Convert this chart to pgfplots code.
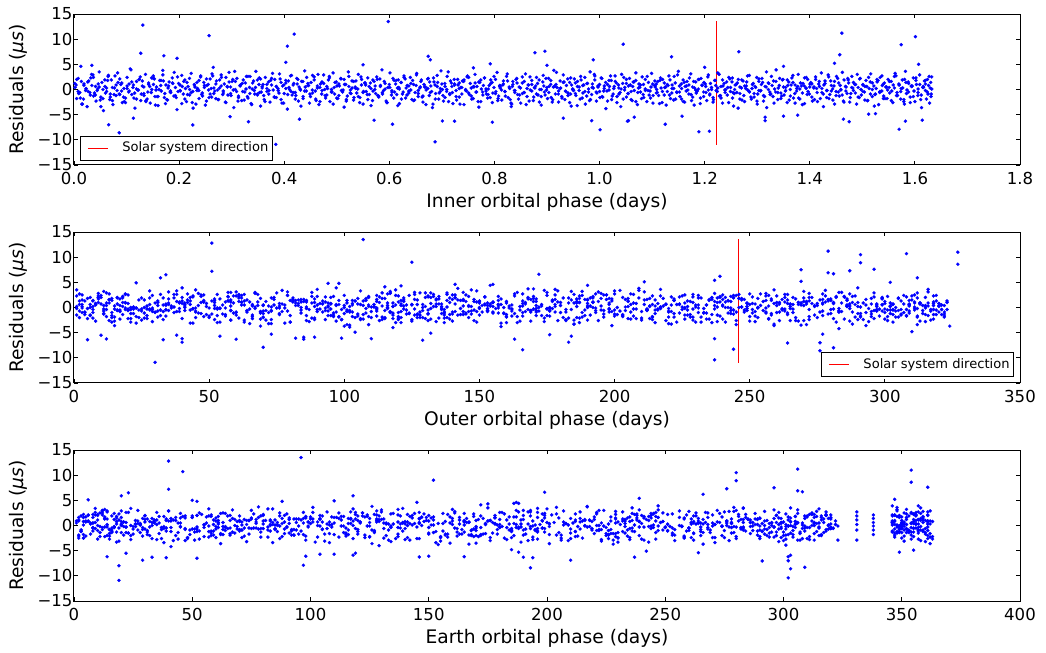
\documentclass[border=0pt]{standalone}
\usepackage{fontspec}
\setmainfont{DejaVu Sans}
\usepackage{pgfplots}
\usepackage{pgfplotstable}
\pgfplotsset{compat=1.18}
\pgfplotstableread{
a b c r
0.002 17 144 0.4
0.005 203 62 -1.8
0.008 88 251 2.2
0.011 296 9 -0.6
0.013 141 187 4.6
0.016 54 306 -2.9
0.019 239 113 1.1
0.022 312 38 -0.2
0.025 109 271 -3.4
0.028 171 350 1.7
0.031 26 96 -1.1
0.034 264 219 0.8
0.036 132 14 2.9
0.039 79 292 -0.7
0.042 318 158 -2.3
0.045 190 71 0.1
0.048 45 236 3.5
0.051 227 357 -1.5
0.053 101 125 1.4
0.056 283 41 -4.2
0.059 158 264 0.6
0.062 7 180 -0.4
0.065 246 22 2.6
0.068 70 315 -2.0
0.071 305 87 1.9
0.074 121 209 -3.0
0.077 36 140 0.3
0.080 215 349 -1.2
0.083 179 57 3.3
0.086 92 283 -0.9
0.089 260 198 1.0
0.092 13 33 -2.6
0.095 147 305 0.2
0.098 298 120 -1.7
0.101 62 245 2.4
0.104 195 77 -0.5
0.107 115 172 4.1
0.110 233 361 -1.0
0.113 30 6 0.9
0.116 324 228 -3.7
0.119 84 149 1.6
0.121 176 290 -0.1
0.124 272 52 2.0
0.127 5 212 -2.2
0.130 136 101 0.7
0.133 221 318 -0.8
0.136 58 27 3.0
0.139 289 167 -1.9
0.142 104 258 1.3
0.145 165 354 -2.7
0.148 41 83 0.0
0.151 250 192 2.7
0.154 127 11 -1.4
0.157 309 276 0.5
0.160 73 134 -3.2
0.163 198 46 1.8
0.166 20 299 -0.3
0.169 142 217 3.8
0.172 277 108 -1.6
0.175 94 346 0.9
0.178 210 162 -2.1
0.181 3 241 1.5
0.184 169 65 -0.6
0.187 256 312 2.3
0.190 51 18 -1.3
0.193 320 201 0.4
0.196 118 129 -4.0
0.199 186 285 1.2
0.202 67 90 -0.2
0.205 237 359 2.8
0.208 151 234 -0.9
0.211 33 3 1.9
0.214 292 176 -2.4
0.217 98 267 0.6
0.220 224 59 -1.1
0.223 11 137 3.2
0.226 182 320 -0.4
0.229 268 81 1.0
0.232 80 206 -2.9
0.235 130 352 0.2
0.238 301 116 -1.8
0.241 47 249 2.5
0.244 162 30 -0.7
0.247 242 296 1.4
0.250 23 155 -3.1
0.253 208 69 0.8
0.256 112 224 -0.1
0.259 285 12 2.1
0.262 60 303 -1.5
0.265 154 188 4.4
0.268 229 99 -0.3
0.271 9 274 1.7
0.274 138 43 -2.0
0.277 316 163 0.3
0.280 75 348 2.9
0.283 193 221 -1.0
0.286 39 85 1.1
0.289 261 310 -2.6
0.292 123 131 0.5
0.295 174 24 3.4
0.298 90 254 -0.8
0.301 279 178 1.6
0.304 15 62 -3.6
0.307 201 292 0.0
0.310 146 8 2.2
0.313 55 196 -1.3
0.316 307 121 0.7
0.319 106 363 -2.2
0.322 232 47 1.9
0.325 28 260 -0.5
0.328 185 146 2.6
0.331 252 74 -1.7
0.334 68 314 0.4
0.337 134 35 -2.8
0.340 323 232 1.3
0.343 1 170 -0.2
0.346 217 279 3.6
0.349 97 92 -0.9
0.352 167 356 1.0
0.355 288 18 -3.3
0.358 43 203 0.6
0.361 243 127 -1.2
0.364 119 288 2.4
0.367 303 55 -0.4
0.370 64 244 1.5
0.373 190 4 -2.5
0.376 12 160 0.9
0.379 157 309 -0.1
0.382 273 104 2.0
0.385 86 229 -1.6
0.388 213 347 0.2
0.391 35 67 3.1
0.394 128 186 -2.0
0.397 295 272 0.7
0.400 77 15 -0.8
0.403 247 142 1.8
0.406 102 301 -3.9
0.409 180 88 0.4
0.412 19 214 2.7
0.415 264 39 -1.1
0.418 150 266 1.2
0.421 314 119 -0.6
0.424 57 355 2.2
0.427 206 194 -2.3
0.430 110 28 0.1
0.433 236 320 1.6
0.436 4 152 -1.4
0.439 170 78 3.7
0.442 281 239 -0.3
0.445 83 303 0.8
0.448 140 10 -2.7
0.451 258 173 1.4
0.454 31 282 -0.7
0.457 197 63 2.5
0.460 322 226 -1.9
0.463 72 133 0.3
0.466 164 358 -3.0
0.469 48 96 1.1
0.472 226 252 -0.2
0.475 117 20 2.9
0.478 290 185 -1.2
0.481 8 297 0.6
0.484 181 70 1.9
0.487 99 230 -2.4
0.490 253 141 0.0
0.493 38 315 3.3
0.496 137 49 -0.9
0.499 310 199 1.5
0.502 66 110 -1.8
0.505 219 351 0.7
0.508 152 270 2.1
0.511 24 16 -0.5
0.514 269 159 -3.5
0.517 89 243 1.0
0.520 200 79 -1.3
0.523 126 298 2.6
0.526 315 124 -0.1
0.529 52 5 1.7
0.532 174 213 -2.1
0.535 240 346 0.5
0.538 94 60 -0.7
0.541 283 190 3.0
0.544 14 262 -1.6
0.547 160 34 0.9
0.550 230 307 -2.9
0.553 107 117 1.3
0.556 297 225 -0.4
0.559 59 148 2.3
0.562 188 353 -1.0
0.565 133 73 0.2
0.568 21 280 -2.2
0.571 262 2 1.6
0.574 144 195 -0.8
0.577 74 318 2.0
0.580 306 91 -1.5
0.583 211 167 0.6
0.586 40 247 3.9
0.589 171 25 -0.2
0.592 255 289 1.2
0.595 113 136 -2.6
0.601 82 208 0.4
0.604 234 53 -1.1
0.607 18 311 2.2
0.610 148 170 -0.5
0.613 299 98 1.8
0.616 65 360 -3.2
0.619 204 237 0.1
0.622 121 13 1.4
0.625 276 184 -0.9
0.628 42 275 2.7
0.631 166 106 -1.7
0.634 318 32 0.8
0.637 95 250 -0.3
0.640 244 156 2.4
0.643 2 293 -2.0
0.646 187 66 1.0
0.649 129 219 -0.6
0.652 270 348 3.2
0.655 56 114 -1.4
0.658 215 7 0.3
0.661 139 263 1.9
0.664 25 182 -2.5
0.667 293 44 0.5
0.670 78 302 -0.1
0.673 251 128 2.1
0.676 163 232 -1.2
0.679 10 21 0.7
0.682 199 362 -3.6
0.685 108 151 1.5
0.688 284 85 -0.8
0.691 46 277 2.8
0.694 222 59 -1.9
0.697 134 197 0.2
0.700 311 316 1.1
0.703 69 103 -2.3
0.706 178 261 0.6
0.709 29 37 -0.4
0.712 259 175 3.5
0.715 120 353 -1.0
0.718 205 94 1.3
0.721 87 223 -2.8
0.724 302 2 0.9
0.727 156 286 -0.2
0.730 16 143 2.0
0.733 238 68 -1.5
0.736 100 313 0.4
0.739 267 187 1.7
0.742 53 42 -3.0
0.745 192 256 0.0
0.748 145 122 2.5
0.751 317 349 -0.7
0.754 71 17 1.2
0.757 214 206 -1.9
0.760 6 295 0.6
0.763 175 75 3.0
0.766 248 161 -0.5
0.769 114 235 -2.4
0.772 286 29 1.4
0.775 37 308 0.1
0.778 159 139 -1.1
0.781 225 253 2.3
0.784 91 82 -0.3
0.787 308 191 -1.7
0.790 49 363 0.8
0.793 183 50 1.9
0.796 131 280 -2.6
0.799 274 116 0.4
0.802 17 227 -0.8
0.805 202 9 3.4
0.808 105 165 -1.3
0.811 261 300 0.7
0.814 61 72 -2.1
0.817 149 212 1.1
0.820 321 134 -0.4
0.823 32 356 2.6
0.826 189 36 -1.6
0.829 118 271 0.2
0.832 245 153 -3.4
0.835 81 247 1.6
0.838 294 11 -0.2
0.841 168 178 2.0
0.844 3 304 -1.0
0.847 231 56 0.5
0.850 125 240 -2.7
0.853 279 100 1.3
0.856 58 321 -0.6
0.859 194 130 3.1
0.862 143 22 -1.4
0.865 313 264 0.9
0.868 76 194 -0.1
0.871 218 359 1.8
0.874 27 88 -2.2
0.877 161 226 0.3
0.880 257 45 2.4
0.883 96 284 -1.1
0.886 304 147 0.0
0.889 44 19 -3.1
0.892 177 205 1.5
0.895 123 309 -0.5
0.898 239 80 2.2
0.901 12 168 -1.8
0.904 289 350 0.6
0.907 155 61 1.0
0.910 63 258 -2.5
0.913 209 126 3.8
0.916 103 3 -0.9
0.919 270 291 0.4
0.922 22 189 -0.3
0.925 186 109 1.7
0.928 319 317 -1.4
0.931 138 40 2.9
0.934 50 274 -2.0
0.937 249 157 0.8
0.940 172 352 -0.7
0.943 7 97 1.4
0.946 221 230 -3.3
0.949 111 14 0.1
0.952 296 202 2.1
0.955 70 120 -1.2
0.958 198 299 0.6
0.961 132 64 -0.2
0.964 263 246 2.6
0.967 34 179 -1.7
0.970 153 322 0.9
0.973 282 51 -2.9
0.976 85 216 1.2
0.979 212 138 -0.5
0.982 1 358 3.5
0.985 166 31 -1.0
0.988 309 261 0.3
0.991 61 105 1.9
0.994 240 294 -2.3
0.997 119 8 0.5
1.000 19 183 -0.4
1.003 187 76 2.3
1.006 274 233 -1.5
1.009 92 346 0.7
1.012 158 154 -3.8
1.015 323 26 1.0
1.018 45 287 -0.1
1.021 206 117 2.7
1.024 127 199 -1.3
1.027 290 55 0.2
1.030 13 268 1.6
1.033 179 145 -2.6
1.036 101 312 0.9
1.039 255 38 -0.6
1.042 67 222 3.0
1.045 228 93 -1.9
1.048 146 354 0.4
1.051 300 171 1.2
1.054 39 15 -0.8
1.057 192 281 2.2
1.060 115 132 -2.0
1.063 266 248 0.6
1.066 5 69 -0.2
1.069 170 305 1.8
1.072 236 192 -3.0
1.075 84 10 1.1
1.078 311 260 -0.5
1.081 141 87 2.5
1.084 53 220 -1.6
1.087 217 348 0.1
1.090 99 123 -2.4
1.093 280 33 1.4
1.096 28 296 -0.3
1.099 184 160 3.2
1.102 124 57 -1.2
1.105 251 239 0.8
1.108 73 319 -0.7
1.111 197 111 1.6
1.114 315 24 -2.8
1.117 154 266 0.3
1.120 10 190 2.0
1.123 242 83 -1.1
1.126 90 306 0.5
1.129 168 150 -0.4
1.132 287 361 2.7
1.135 48 63 -1.8
1.138 207 215 0.9
1.141 135 5 -2.1
1.144 272 278 1.3
1.147 20 131 -0.6
1.150 178 204 3.6
1.153 107 44 -1.4
1.156 297 288 0.2
1.159 62 172 1.9
1.162 229 350 -2.5
1.165 152 99 0.7
1.168 36 257 -0.1
1.171 260 19 2.3
1.174 117 185 -1.0
1.177 321 315 0.5
1.180 78 106 -3.1
1.183 190 234 1.5
1.186 15 52 -0.3
1.189 244 297 2.0
1.192 162 164 -1.7
1.195 95 347 0.8
1.198 303 74 -0.5
1.201 56 218 1.1
1.204 213 137 -2.2
1.207 128 12 2.9
1.210 283 269 -0.9
1.213 31 174 0.4
1.216 175 307 -1.6
1.219 253 58 1.8
1.222 86 243 -0.2
1.225 200 118 3.3
1.228 145 355 -1.3
1.231 8 34 0.6
1.234 268 196 -2.7
1.237 112 282 1.2
1.240 226 86 0.0
1.243 59 251 -1.1
1.246 307 144 2.4
1.249 137 17 -0.4
1.252 24 303 1.5
1.255 185 102 -3.3
1.258 249 227 0.9
1.261 93 360 -0.6
1.264 299 66 2.0
1.267 160 253 -1.9
1.270 41 135 0.3
1.273 222 310 1.7
1.276 120 48 -2.4
1.279 277 207 0.7
1.282 3 113 -0.1
1.285 195 292 2.8
1.288 66 23 -1.5
1.291 238 176 1.0
1.294 149 349 -0.8
1.297 314 91 0.4
1.300 80 228 -2.9
1.303 204 4 1.6
1.306 27 265 -0.3
1.309 170 127 2.2
1.312 258 314 -1.2
1.315 106 61 0.6
1.318 293 201 -3.6
1.321 51 146 1.3
1.324 216 283 -0.5
1.327 133 35 2.6
1.330 18 246 -1.4
1.333 247 108 0.1
1.336 97 357 3.9
1.339 181 168 -2.0
1.342 320 20 0.8
1.345 70 298 -0.7
1.348 231 79 1.9
1.351 157 236 -1.1
1.354 11 154 0.4
1.357 265 308 -2.6
1.360 122 47 1.5
1.363 190 221 0.0
1.366 44 352 2.3
1.369 291 95 -1.7
1.372 88 276 0.9
1.375 212 13 -0.3
1.378 144 193 3.0
1.381 305 301 -1.9
1.384 34 71 0.7
1.387 177 242 1.2
1.390 252 140 -2.8
1.393 114 362 0.3
1.396 6 30 2.0
1.399 220 185 -0.9
1.402 138 290 1.4
1.405 285 57 -2.3
1.408 63 211 0.5
1.411 197 122 2.5
1.414 102 320 -0.6
1.417 271 2 1.1
1.420 23 172 -1.8
1.423 165 268 0.2
1.426 312 84 -3.4
1.429 54 235 1.7
1.432 233 351 -0.2
1.435 130 40 2.9
1.438 14 195 -1.0
1.441 259 305 0.8
1.444 89 115 -2.1
1.447 189 20 1.6
1.450 318 250 -0.4
1.453 47 158 2.2
1.456 147 346 -1.3
1.459 241 68 0.0
1.462 77 283 3.4
1.465 210 131 -2.5
1.468 125 9 0.6
1.471 295 223 -0.8
1.474 2 317 1.3
1.477 173 89 -1.6
1.480 264 180 2.6
1.483 108 358 -0.2
1.486 39 43 1.0
1.489 223 262 -2.9
1.492 153 142 0.4
1.495 308 6 2.1
1.498 69 289 -1.1
1.501 183 198 0.9
1.504 16 76 -0.5
1.507 246 314 1.8
1.510 118 125 -2.2
1.513 286 28 0.2
1.516 60 247 3.1
1.519 201 353 -1.4
1.522 141 103 0.7
1.525 322 190 -0.9
1.528 83 60 1.5
1.531 215 277 -3.0
1.534 29 165 2.4
1.537 162 22 -0.3
1.540 278 302 1.1
1.543 98 97 -1.8
1.546 234 229 0.5
1.549 9 349 2.0
1.552 176 50 -0.7
1.555 126 256 1.6
1.558 301 118 -2.6
1.561 58 361 0.3
1.564 193 14 2.7
1.567 136 212 -1.2
1.570 269 150 0.9
1.573 21 294 -0.4
1.576 244 65 1.9
1.579 110 239 -2.0
1.582 316 348 3.6
1.585 75 104 -0.1
1.588 205 30 1.2
1.591 150 278 -1.5
1.594 35 177 0.6
1.597 289 355 2.3
1.600 93 71 -2.4
1.603 229 218 1.0
1.606 169 299 -0.6
1.609 12 128 2.9
1.612 256 8 -1.1
1.615 116 264 0.4
1.618 299 186 1.7
1.620 52 350 -0.2
1.622 188 93 -1.9
1.624 130 244 2.0
1.626 275 18 0.8
1.628 15 301 -2.7
1.630 222 160 1.4
1.631 102 357 -0.9
1.632 311 53 2.5
0.598 107 96 13.5
0.131 51 40 12.8
1.461 279 306 11.2
0.419 327 354 11.0
0.257 308 46 10.7
1.601 291 280 10.5
1.045 125 152 9.0
1.574 291 280 8.9
0.406 327 354 8.6
0.896 296 361 7.6
1.265 269 296 7.5
0.877 287 276 7.3
0.127 51 40 7.2
1.457 279 306 6.9
0.171 281 308 6.7
0.674 172 199 6.6
1.137 34 23 6.5
0.196 239 266 6.2
0.678 32 20 5.9
0.403 237 239 5.4
0.792 211 6 5.1
1.447 269 347 5.2
1.607 302 50 5.0
0.988 312 118 5.9
0.034 98 52 4.8
0.900 94 88 4.8
0.550 23 110 4.9
1.350 155 145 4.6
1.200 190 186 4.4
0.760 121 175 4.3
0.384 30 19 -10.9
0.687 237 302 -10.4
0.086 276 303 -8.6
1.189 166 193 -8.4
1.209 244 309 -8.3
1.001 281 19 -8.0
1.570 70 97 -7.9
0.226 264 291 -7.05
0.066 276 302 -7.0
0.606 40 29 -6.9
1.125 183 210 -6.9
0.571 82 98 -6.1
1.582 85 33 -6.3
1.475 5 39 -6.4
0.796 129 52 -6.5
0.724 163 237 -6.3
0.701 12 146 -6.25
1.053 60 190 -6.3
1.315 237 302 -6.2
0.332 33 194 -6.4
1.614 99 150 -6.1
0.985 110 14 -6.2
1.055 40 165 -6.2
1.464 85 303 -5.9
0.931 184 110 -5.7
1.066 10 119 -5.5
0.113 54 104 -5.7
1.315 38 22 -5.5
0.297 176 264 -5.4
1.350 73 188 -5.3
1.157 277 349 -5.3
1.377 132 242 -5.1
1.512 104 355 -4.9
1.525 310 185 -4.8
0.429 89 118 -5.9
0.512 19 323 -0.1
0.833 241 323 -2.9
0.264 116 331 2.7
0.617 191 331 1.9
1.108 58 331 1.1
1.393 265 331 0.2
0.945 140 331 -0.9
1.580 303 331 -2.9
0.153 224 338 2.1
0.472 80 338 1.4
0.810 157 338 0.6
1.183 29 338 -0.1
1.301 206 338 -0.9
1.540 120 338 -1.8
0.355 285 320 2.1
0.733 43 320 1.3
1.254 171 320 -0.6
0.0015 122 77 1.2
0.0052 9 199 2.0
0.0081 251 310 -0.4
0.0120 176 25 -1.7
0.0149 63 133 -2.9
0.0188 300 262 0.8
0.0230 138 350 0.1
0.0262 26 91 1.5
0.0301 212 188 -0.6
0.0333 88 12 3.0
0.0370 319 244 2.4
0.0405 155 70 -1.1
0.0441 44 301 -0.2
0.0479 234 159 0.5
0.0511 101 38 -3.4
0.0550 272 226 -1.8
0.0587 16 356 1.9
0.0620 191 107 0.3
0.0654 67 279 2.8
0.0690 248 3 -0.9
0.0731 130 171 -2.2
0.0762 307 64 -1.0
0.0801 39 233 0.9
0.0838 177 319 1.4
0.0870 93 124 2.1
0.0905 263 45 -0.3
0.0942 6 210 -1.5
0.0979 219 290 -2.6
0.1010 146 84 0.2
0.1048 81 152 1.1
0.1084 290 346 3.9
0.1122 34 28 0.4
0.1155 202 268 -0.7
0.1190 114 190 -1.9
0.1226 256 99 -0.1
0.1260 20 312 2.5
0.1299 168 56 1.7
0.1333 314 237 -1.2
0.1368 73 141 -2.4
0.1405 227 8 -0.5
0.1440 125 287 0.6
0.1476 1 182 2.3
0.1512 281 73 1.0
0.1549 158 351 -3.1
0.1584 49 205 -1.4
0.1618 242 118 0.0
0.1655 105 36 1.8
0.1691 296 256 2.9
0.1727 29 164 -0.8
0.1765 186 300 -2.0
0.1801 135 89 0.7
0.1836 266 17 -0.3
0.1873 57 229 1.3
0.1907 209 139 3.4
0.1944 95 362 -1.6
0.1980 323 61 -0.4
0.2016 13 281 0.9
0.2051 174 194 -2.8
0.2088 240 110 1.6
0.2122 118 20 0.2
0.2160 37 247 -1.0
0.2197 285 318 2.2
0.2231 153 75 -0.6
0.2266 69 167 -3.7
0.2302 221 295 0.5
0.2339 103 41 1.4
0.2375 311 213 -0.2
0.2410 2 130 2.7
0.2446 196 349 -1.3
0.2483 132 6 0.8
0.2519 257 258 -2.3
0.2554 47 149 1.0
0.2590 182 82 -0.9
0.2627 79 306 3.1
0.2662 302 184 0.3
0.2698 160 31 -1.8
0.2733 23 270 -0.1
0.2771 236 122 1.9
0.2806 112 358 2.4
0.2842 277 52 -0.7
0.2879 58 215 -2.5
0.2915 206 139 0.6
0.2951 142 298 1.5
0.2988 11 16 -1.2
0.3022 263 240 2.0
0.3057 90 101 3.6
0.3094 317 320 -0.4
0.3130 171 66 -1.6
0.3167 35 175 0.9
0.3201 228 283 1.2
0.3238 120 2 -2.1
0.3273 291 207 0.1
0.3310 61 354 2.6
0.3346 199 93 -0.8
0.3381 137 254 -3.0
0.3417 17 147 1.7
0.3453 254 27 0.4
0.3490 84 291 -1.1
0.3525 310 198 2.3
0.3562 165 115 -0.5
0.3597 42 360 1.0
0.3634 214 60 -2.4
0.3670 109 231 0.2
0.3706 283 168 -0.9
0.3741 5 305 1.8
0.3778 188 13 3.2
0.3815 128 262 -1.5
0.3850 268 86 0.6
0.3886 54 193 -0.2
0.3922 221 347 2.1
0.3957 97 44 -2.7
0.3994 316 276 0.9
0.4031 150 128 1.3
0.4066 30 10 -1.0
0.4102 246 222 0.0
0.4139 117 314 2.8
0.4174 297 79 -0.6
0.4210 70 157 -1.9
0.4246 179 286 1.1
0.4283 8 36 0.5
0.4318 259 243 -3.3
0.4355 140 352 1.6
0.4391 44 109 -0.3
0.4427 231 199 2.4
0.4462 91 18 0.8
0.4499 303 269 -1.4
0.4535 161 134 -0.1
0.4570 25 316 1.9
0.4607 208 55 -2.2
0.4643 126 224 3.0
0.4679 275 146 0.4
0.4714 64 357 -0.9
0.4751 194 72 1.2
0.4788 112 292 -1.7
0.4823 320 180 0.2
0.4859 38 23 2.6
0.4896 244 253 -0.5
0.4931 149 98 -2.9
0.4967 14 309 1.4
0.5003 224 165 0.7
0.5040 100 41 -1.2
0.5075 288 237 2.2
0.5111 170 348 -0.3
0.5147 52 120 1.0
0.5183 253 14 -2.0
0.5220 119 283 3.5
0.5256 309 191 -0.7
0.5291 76 61 0.3
0.5327 203 313 -1.6
0.5364 135 152 1.7
0.5399 22 4 0.1
0.5435 267 226 -2.6
0.5472 95 356 2.0
0.5508 184 90 -0.4
0.5543 40 261 1.3
0.5580 300 170 -1.0
0.5616 157 33 0.6
0.5652 72 298 -3.2
0.5687 238 129 1.9
0.5724 116 216 0.0
0.5760 3 351 2.5
0.5796 279 67 -1.3
0.5831 166 249 0.8
0.5867 58 140 -0.6
0.5904 212 8 1.6
0.5940 132 304 -2.3
0.5975 318 186 0.4
0.6012 28 82 3.3
0.6048 249 274 -0.2
0.6084 105 163 -1.7
0.6120 192 359 1.1
0.6155 66 26 0.3
0.6192 294 235 -2.8
0.6228 144 112 1.4
0.6263 17 321 -0.5
0.6300 229 58 2.1
0.6336 124 196 -1.1
0.6372 271 361 0.7
0.6408 50 125 -0.1
0.6443 205 281 1.8
0.6480 88 15 -2.1
0.6516 312 207 2.9
0.6551 153 92 -0.8
0.6588 33 265 0.5
0.6624 258 150 -1.5
0.6660 113 347 1.0
0.6696 187 47 -3.0
0.6731 7 289 0.2
0.6768 276 178 1.5
0.6804 136 12 -0.4
0.6840 60 238 2.3
0.6875 220 123 -1.9
0.6912 97 299 0.6
0.6948 304 69 -0.7
0.6983 168 217 3.7
0.7020 21 353 -1.2
0.7056 243 104 1.2
0.7092 129 24 0.0
0.7127 52 271 -2.4
0.7164 286 159 1.7
0.7200 196 308 -0.6
0.7235 109 80 2.0
0.7271 321 230 -1.4
0.7307 41 5 0.9
0.7344 232 142 -2.9
0.7380 151 294 0.4
0.7415 74 50 1.6
0.7452 262 257 -0.2
0.7488 13 357 2.7
0.7523 180 127 -1.0
0.7559 122 18 0.3
0.7596 295 201 -1.8
0.7632 63 289 1.3
0.7667 214 94 0.6
0.7704 102 170 -3.5
0.7740 270 346 1.9
0.7775 32 39 -0.5
0.7811 163 245 2.3
0.7848 245 116 -0.9
0.7884 86 319 0.1
0.7919 308 62 -1.6
0.7956 143 210 1.4
0.7992 19 9 2.6
0.8027 225 278 -0.4
0.8063 115 155 -2.2
0.8100 281 355 0.8
0.8136 54 87 -0.1
0.8171 199 227 1.7
0.8207 131 31 -1.3
0.8244 316 296 3.1
0.8280 70 132 0.5
0.8315 250 363 -2.7
0.8351 9 70 1.0
0.8388 176 193 -0.6
0.8424 96 284 2.2
0.8459 291 21 -1.9
0.8495 157 251 0.3
0.8532 38 105 -0.8
0.8568 235 316 1.6
0.8603 119 176 -3.0
0.8640 269 41 0.9
0.8676 48 268 2.5
0.8711 207 145 -0.3
0.8747 137 348 -1.5
0.8784 303 77 0.7
0.8820 81 220 1.2
0.8855 185 2 -2.5
0.8891 26 303 0.0
0.8928 256 161 2.8
0.8964 108 58 -1.1
0.8999 322 240 0.4
0.9035 64 350 -0.6
0.9072 213 114 1.8
0.9108 146 32 -2.0
0.9143 2 273 0.6
0.9180 278 196 3.4
0.9216 169 94 -0.9
0.9251 89 322 0.2
0.9287 239 7 -1.7
0.9324 127 258 1.5
0.9360 306 137 -0.4
0.9395 44 361 2.1
0.9431 194 48 -2.6
0.9468 116 232 0.9
0.9504 265 181 -0.2
0.9539 31 288 1.3
0.9575 220 73 -3.2
0.9612 152 351 0.5
0.9648 73 120 1.9
0.9683 297 214 -0.7
0.9720 175 17 2.4
0.9756 11 307 -1.3
0.9791 247 143 0.1
0.9827 104 265 -2.0
0.9864 318 35 1.1
0.9900 57 187 3.0
0.9935 189 356 -0.5
0.9971 134 99 0.7
1.0008 27 227 -1.6
1.0044 282 4 2.2
1.0079 162 283 -0.3
1.0115 82 166 1.4
1.0152 226 347 -2.3
1.0188 111 63 0.6
1.0223 305 246 1.8
1.0259 45 126 -0.9
1.0296 200 318 2.7
1.0332 139 20 -1.4
1.0367 15 201 0.3
1.0403 271 108 -3.4
1.0440 170 357 1.2
1.0476 93 274 -0.1
1.0511 241 52 2.0
1.0547 121 179 -0.8
1.0584 313 292 0.9
1.0620 66 13 -2.2
1.0655 211 238 1.5
1.0691 149 84 3.3
1.0728 35 352 -0.6
1.0764 260 156 0.4
1.0799 103 302 -1.8
1.0835 290 39 1.0
1.0872 176 218 -0.2
1.0908 53 119 2.6
1.0943 233 346 -1.1
1.0979 125 262 0.5
1.1016 8 53 -2.7
1.1052 280 184 1.7
1.1087 159 10 0.0
1.1123 76 291 -1.2
1.1160 217 134 2.3
1.1196 99 357 -0.4
1.1231 319 75 1.3
1.1267 43 223 -3.1
1.1304 190 305 0.8
1.1340 141 16 1.9
1.1375 263 169 -0.7
1.1411 18 251 0.2
1.1448 229 92 -1.9
1.1484 114 362 2.9
1.1519 301 198 -0.5
1.1555 62 34 1.1
1.1592 182 275 -2.4
1.1628 129 146 0.6
1.1663 248 313 1.6
1.1699 4 71 -0.9
1.1736 211 239 3.1
1.1772 96 115 -1.5
1.1807 287 350 0.3
1.1843 153 26 -0.2
1.1880 40 297 2.0
1.1916 238 183 -2.8
1.1951 118 60 0.9
1.1987 309 264 1.4
1.2024 73 162 -0.6
1.2060 196 11 2.5
1.2095 145 309 -1.1
1.2131 22 103 0.0
1.2168 267 225 -2.0
1.2204 108 348 1.8
1.2239 212 41 -0.4
1.2275 164 280 3.0
1.2312 56 137 -1.7
1.2348 297 5 0.7
1.2383 136 247 -0.1
1.2419 13 359 1.5
1.2456 245 87 -2.6
1.2492 121 208 0.4
1.2527 278 301 2.3
1.2563 69 29 -0.8
1.2600 187 176 1.0
1.2636 100 266 -3.7
1.2671 321 97 0.5
1.2707 37 353 1.9
1.2744 222 153 -1.2
1.2780 155 14 0.2
1.2815 254 232 2.7
1.2851 84 315 -0.5
1.2888 304 66 -1.9
1.2924 171 190 1.2
1.2959 28 286 0.6
1.2995 235 112 -2.3
1.3032 113 346 2.1
1.3068 283 45 -0.2
1.3103 52 214 1.4
1.3139 203 127 -1.4
1.3176 147 303 3.5
1.3212 6 20 0.0
1.3247 266 260 -1.0
1.3283 92 165 0.8
1.3320 313 357 -2.7
1.3356 178 78 1.6
1.3391 41 244 -0.6
1.3427 243 141 2.2
1.3464 123 295 -1.3
1.3500 299 7 0.5
1.3535 65 188 -0.3
1.3571 209 310 1.9
1.3608 137 98 -2.1
1.3644 19 361 0.9
1.3679 272 229 2.8
1.3715 101 37 -0.8
1.3752 186 271 0.2
1.3788 50 150 -1.7
1.3823 227 14 1.3
1.3859 160 300 -3.0
1.3896 309 121 0.7
1.3932 79 354 2.4
1.3967 198 64 -0.4
1.4003 120 238 1.1
1.4040 1 177 -1.5
1.4076 257 320 0.3
1.4111 141 89 2.0
1.4147 33 261 -2.4
1.4184 224 22 0.6
1.4220 106 200 3.3
1.4255 288 351 -0.9
1.4291 61 130 1.2
1.4328 177 279 -0.2
1.4364 250 49 -1.8
1.4399 89 220 1.7
1.4435 315 165 0.1
1.4472 14 313 -2.9
1.4508 207 101 2.6
1.4543 131 8 -0.5
1.4579 273 249 0.8
1.4616 46 357 -1.1
1.4652 192 138 1.9
1.4687 112 296 -0.3
1.4723 301 54 2.2
1.4760 71 206 -2.5
1.4796 237 356 0.4
1.4831 157 116 1.4
1.4867 25 25 -0.7
1.4904 284 272 3.0
1.4940 94 174 -1.6
1.4975 217 319 0.0
1.5011 139 74 1.0
1.5048 7 234 -2.1
1.5084 265 359 0.6
1.5119 124 135 2.4
1.5155 320 16 -0.9
1.5192 57 285 1.3
1.5228 185 189 -3.3
1.5263 102 59 0.2
1.5299 246 243 1.8
1.5336 34 354 -0.4
1.5372 166 107 2.7
1.5407 295 300 -1.3
1.5443 78 34 0.5
1.5480 231 216 -0.1
1.5516 148 147 1.6
1.5551 20 311 -2.2
1.5587 277 83 0.9
1.5624 117 352 3.2
1.5660 204 196 -0.6
1.5695 65 19 1.1
1.5731 312 254 -1.9
1.5768 173 132 0.3
1.5804 43 318 2.0
1.5839 252 47 -0.8
1.5875 134 229 1.5
1.5912 86 361 -2.6
1.5948 287 105 0.7
1.5983 11 280 -0.3
1.6019 214 169 2.3
1.6056 159 3 -1.2
1.6092 31 293 1.0
1.6127 259 126 -3.6
1.6163 107 350 0.4
1.6200 195 61 1.8
1.6236 302 236 -0.5
1.6271 68 181 2.6
1.6307 144 349 -1.4
1.6320 230 85 0.1
0.004 150 118 0.9
0.009 33 265 -0.8
0.014 277 43 1.6
0.018 98 347 -1.9
0.023 205 160 0.2
0.027 12 8 -0.4
0.032 318 221 2.3
0.037 140 297 -1.3
0.041 66 84 0.6
0.046 241 183 1.1
0.050 183 29 -2.1
0.055 21 312 0.0
0.060 299 105 -0.7
0.064 114 241 1.8
0.069 226 58 -1.5
0.073 52 355 0.4
0.078 163 193 2.7
0.082 287 17 -0.2
0.087 7 275 -1.0
0.091 199 131 1.3
0.096 89 48 -2.4
0.101 265 303 0.7
0.105 126 217 -0.3
0.110 42 75 1.5
0.114 312 360 -1.7
0.119 172 152 0.1
0.124 236 6 2.0
0.128 60 249 -0.9
0.133 109 121 0.5
0.137 281 290 -2.2
0.142 18 34 1.0
0.147 193 199 -0.6
0.151 135 356 2.2
0.156 253 95 -0.1
0.160 76 266 -1.4
0.165 320 140 0.8
0.170 158 13 1.7
0.174 29 311 -2.8
0.179 218 178 0.3
0.183 101 66 -0.5
0.188 270 233 1.2
0.193 47 348 -1.2
0.197 178 112 2.5
0.202 122 22 -0.3
0.206 303 286 0.6
0.211 15 204 -1.9
0.215 235 88 1.4
0.220 84 319 0.0
0.225 148 146 -2.6
0.229 292 40 0.9
0.234 39 257 -0.2
0.238 187 169 1.8
0.243 260 353 -1.0
0.248 70 100 0.4
0.252 131 9 2.1
0.257 316 228 -1.6
0.261 3 301 0.2
0.266 210 63 -0.8
0.270 93 189 1.1
0.275 275 361 -2.0
0.280 167 128 0.7
0.284 25 32 -0.3
0.289 245 273 2.4
0.293 118 156 -1.1
0.298 297 1 0.5
0.303 56 244 -0.1
0.307 190 349 1.6
0.312 139 82 -2.3
0.316 8 212 0.8
0.321 262 305 -0.4
0.326 104 119 1.3
0.330 228 28 -1.4
0.335 37 267 2.6
0.339 311 179 0.1
0.344 171 353 -0.9
0.349 81 57 1.9
0.353 249 235 -0.6
0.358 144 138 0.3
0.362 14 316 -2.0
0.367 288 74 1.0
0.371 198 201 -0.2
0.376 61 10 2.2
0.381 126 294 -1.5
0.385 309 166 0.6
0.390 45 89 -0.7
0.394 222 358 1.4
0.399 169 246 -2.7
0.403 1 35 0.2
0.408 258 123 1.7
0.413 90 282 -0.4
0.417 185 194 0.9
0.422 302 52 -1.2
0.426 132 318 2.0
0.431 23 114 -0.1
0.436 214 4 -1.8
0.440 74 223 0.5
0.445 271 352 1.2
0.449 155 71 -0.9
0.454 9 260 2.8
0.459 237 180 -0.3
0.463 105 30 0.7
0.468 290 299 -2.4
0.472 58 143 1.5
0.477 176 349 0.0
0.481 251 92 -1.1
0.486 120 212 2.3
0.491 34 19 -0.5
0.495 315 278 0.4
0.500 200 157 -1.7
0.504 86 357 1.1
0.509 143 63 -0.2
0.514 266 238 2.0
0.518 17 125 -2.3
0.523 223 306 0.6
0.527 110 12 -0.8
0.532 293 196 1.6
0.536 49 86 0.2
0.541 160 350 -1.4
0.546 240 263 2.5
0.550 71 47 -0.6
0.555 311 175 0.9
0.559 127 297 -2.0
0.564 4 101 1.3
0.569 216 14 -0.3
0.573 95 230 0.7
0.578 280 359 -1.2
0.582 152 137 2.1
0.587 30 290 -0.9
0.592 247 55 0.1
0.596 182 210 -2.6
0.600 62 170 1.0
0.605 319 320 -0.5
0.609 115 38 1.8
0.614 231 251 -1.0
0.618 12 117 0.4
0.623 196 2 -1.9
0.628 79 306 2.4
0.632 286 192 0.3
0.637 147 78 -0.7
0.641 38 355 1.2
0.646 257 229 -2.2
0.651 103 129 0.8
0.655 220 21 -0.2
0.660 169 284 1.6
0.664 306 162 -1.3
0.669 55 45 0.5
0.674 133 313 2.2
0.678 243 107 -0.6
0.683 21 241 -2.9
0.687 198 362 0.9
0.692 86 67 1.4
0.697 272 187 -0.4
0.701 150 295 0.0
0.706 6 15 -1.6
0.710 229 221 2.6
0.715 117 120 -0.8
0.719 299 346 0.6
0.724 68 83 1.1
0.728 187 258 -2.1
0.733 136 174 0.2
0.738 256 27 -0.9
0.742 28 309 1.9
0.747 208 134 -0.3
0.751 100 236 2.4
0.756 322 51 -1.3
0.761 162 354 0.5
0.765 43 198 -0.5
0.770 264 98 1.5
0.774 125 270 -2.4
0.779 216 4 0.8
0.784 73 151 0.1
0.788 293 287 -1.0
0.793 148 68 1.2
0.797 11 210 -0.7
0.802 239 361 2.0
0.807 109 115 -1.8
0.811 190 20 0.3
0.816 59 246 0.9
0.820 280 172 -0.4
0.825 134 302 1.7
0.830 24 58 -2.0
0.834 250 200 0.6
0.839 175 349 -0.2
0.843 92 95 1.3
0.848 309 259 -1.1
0.853 140 12 2.5
0.857 16 185 -0.6
0.862 227 298 0.2
0.866 107 79 -2.3
0.871 268 216 1.0
0.876 46 355 0.4
0.880 198 133 -0.9
0.885 122 30 1.9
0.889 315 279 -1.4
0.894 77 167 0.7
0.899 243 57 -0.1
0.903 157 312 2.2
0.908 32 225 -1.6
0.912 286 110 0.5
0.917 180 358 1.0
0.922 58 4 -2.5
0.926 213 263 0.3
0.931 98 146 1.4
0.935 300 315 -0.3
0.940 131 86 -1.2
0.945 9 204 2.3
0.949 253 33 0.0
0.954 167 293 -0.8
0.958 85 163 1.6
0.963 232 354 -1.9
0.968 40 70 0.8
0.972 308 245 -0.4
0.977 145 129 1.2
0.981 205 11 -2.2
0.986 66 299 0.4
0.991 277 188 2.7
0.995 112 51 -0.7
1.000 19 236 1.0
1.005 236 360 -1.4
1.009 178 109 0.2
1.014 53 277 -0.3
1.018 295 18 1.8
1.023 129 172 -2.0
1.028 219 313 0.6
1.032 7 93 1.3
1.037 261 219 -0.9
1.041 94 346 0.1
1.046 188 64 2.4
1.051 142 253 -1.5
1.055 313 141 0.7
1.060 29 29 -0.4
1.064 247 290 1.5
1.069 106 185 -2.4
1.074 166 357 0.3
1.078 284 80 0.9
1.083 72 226 -1.0
1.087 203 10 2.0
1.092 116 304 -0.2
1.097 322 158 -1.7
1.101 48 59 1.1
1.106 230 270 0.5
1.110 153 350 -0.6
1.115 14 124 1.8
1.119 270 37 -2.6
1.124 97 233 0.4
1.129 192 165 1.0
1.133 137 318 -1.1
1.138 302 83 0.2
1.142 63 196 2.6
1.147 215 355 -0.5
1.152 121 21 0.7
1.156 31 289 -1.9
1.161 256 104 1.4
1.165 175 241 -0.3
1.170 82 361 0.9
1.175 296 169 -2.2
1.179 144 50 1.6
1.184 2 301 -0.7
1.188 225 209 0.1
1.193 109 119 2.2
1.198 264 16 -1.4
1.202 41 278 0.6
1.207 193 349 -0.1
1.211 160 91 1.2
1.216 317 230 -2.5
1.221 76 148 0.8
1.225 240 305 0.3
1.230 124 3 -1.2
1.234 18 193 1.9
1.239 283 355 -0.6
1.244 171 77 0.4
1.248 57 259 2.1
1.253 207 173 -1.7
1.257 100 313 0.0
1.262 306 39 1.3
1.267 141 222 -0.8
1.271 26 351 -2.1
1.276 252 137 0.7
1.280 184 18 1.5
1.285 87 268 -0.4
1.290 274 187 0.2
1.294 118 347 -1.5
1.299 10 62 2.4
1.303 217 233 -0.2
1.308 155 128 1.0
1.312 300 296 -2.3
1.317 62 8 0.5
1.322 237 180 1.2
1.326 128 359 -0.9
1.331 35 100 1.7
1.335 262 260 -0.5
1.340 195 26 0.3
1.345 96 316 -1.8
1.349 315 150 2.0
1.354 150 60 -0.2
1.358 20 235 0.8
1.363 244 354 -1.3
1.368 108 117 1.4
1.372 287 15 -2.7
1.377 173 283 0.6
1.381 67 195 0.1
1.386 220 347 -0.7
1.390 131 90 2.3
1.395 4 222 -1.0
1.400 269 308 0.5
1.404 155 42 1.1
1.409 45 170 -2.0
1.413 249 356 0.2
1.418 112 247 1.6
1.423 305 80 -0.6
1.427 186 1 0.9
1.432 80 286 -1.6
1.436 226 161 2.5
1.441 136 349 -0.3
1.446 16 108 0.7
1.450 291 212 -1.2
1.455 166 31 1.3
1.459 53 302 -0.1
1.464 234 362 -2.3
1.469 103 139 0.5
1.473 312 262 1.9
1.478 146 70 -0.8
1.482 27 189 0.3
1.487 261 350 1.0
1.492 191 23 -1.5
1.496 90 229 2.2
1.501 321 311 -0.4
1.505 127 125 0.6
1.510 40 355 -2.2
1.515 215 45 1.5
1.519 172 276 0.0
1.524 60 168 -1.0
1.528 282 347 2.0
1.533 115 85 -0.6
1.538 8 239 0.8
1.542 242 13 1.3
1.547 164 304 -1.8
1.551 83 178 0.4
1.556 298 361 -0.3
1.561 138 97 2.6
1.565 22 265 -1.2
1.570 226 27 0.9
1.574 111 351 0.2
1.579 272 155 -2.4
1.583 48 299 1.4
1.588 200 72 -0.5
1.593 154 214 0.7
1.597 318 352 -1.4
1.602 69 113 1.8
1.606 238 245 0.1
1.611 121 24 -2.0
1.616 3 317 0.6
1.620 263 163 1.1
1.625 178 358 -0.9
1.629 94 80 0.3
}\data
\pgfplotsset{
  every axis/.append style={
    scale only axis, width=709.5pt, height=113.25pt,
    ymin=-15, ymax=15, ytick={-15,-10,...,15},
    yticklabels={−15,−10,−5,0,5,10,15},
    tick align=inside, major tick length=3pt, minor tick num=0,
    axis line style={line width=0.75pt}, every tick/.style={black, line width=0.6pt},
    ticklabel style={font=\fontsize{12.4}{14}\selectfont},
    label style={font=\fontsize{14}{16}\selectfont},
    xticklabel style={anchor=base, yshift=-14.5pt},
    yticklabel style={anchor=east, inner sep=0pt, xshift=-1pt},
    ylabel style={at={(axis description cs:-0.0535,0.5)}, anchor=base},
    xlabel style={at={(axis description cs:0.5,-0.2817)}, anchor=base},
    ylabel={Residuals ({\itshape μs})},
  },
  dots/.style={only marks, mark=*, color=blue, mark size=1.2pt, mark options={draw=blue, fill=blue, line width=0.2pt}, forget plot},
}
\tikzset{
  legbox/.style={draw=black, line width=0.6pt, fill=white, inner sep=0pt, minimum width=144pt, minimum height=18pt},
  legtext/.style={anchor=west, inner sep=0pt, font=\fontsize{9.8}{11}\selectfont},
}
\begin{document}
\begin{tikzpicture}
\useasboundingbox (-55.5pt,10.5pt) rectangle (729pt,-479.25pt);
\begin{axis}[at={(0pt,0pt)}, anchor=north west,
  xmin=0, xmax=1.8, xtick={0,0.2,...,1.8},
  xticklabels={0.0,0.2,0.4,0.6,0.8,1.0,1.2,1.4,1.6,1.8},
  xlabel={Inner orbital phase (days)}]
\addplot[dots] table[x=a, y=r] {\data};
\addplot[red, line width=0.75pt] coordinates {(1.222,-11.0) (1.222,13.6)};
\node[legbox, anchor=south west, xshift=4.5pt, yshift=3.2pt] (L1) at (rel axis cs:0,0) {};
\draw[red, line width=0.75pt] ([xshift=6pt]L1.west) -- ([xshift=21pt]L1.west);
\node[legtext] at ([xshift=31.5pt]L1.west) {Solar system direction};
\end{axis}
\begin{axis}[at={(0pt,-163.5pt)}, anchor=north west,
  xmin=0, xmax=350, xtick={0,50,...,350},
  xticklabels={0,50,100,150,200,250,300,350},
  xlabel={Outer orbital phase (days)}]
\addplot[dots] table[x=b, y=r] {\data};
\addplot[red, line width=0.75pt] coordinates {(245.8,-11.0) (245.8,13.6)};
\node[legbox, anchor=south east, xshift=-4.5pt, yshift=4.5pt] (L2) at (rel axis cs:1,0) {};
\draw[red, line width=0.75pt] ([xshift=6pt]L2.west) -- ([xshift=21pt]L2.west);
\node[legtext] at ([xshift=31.5pt]L2.west) {Solar system direction};
\end{axis}
\begin{axis}[at={(0pt,-327pt)}, anchor=north west,
  xmin=0, xmax=400, xtick={0,50,...,400},
  xticklabels={0,50,100,150,200,250,300,350,400},
  xlabel={Earth orbital phase (days)}]
\addplot[dots] table[x=c, y=r] {\data};
\end{axis}
\end{tikzpicture}
\end{document}
